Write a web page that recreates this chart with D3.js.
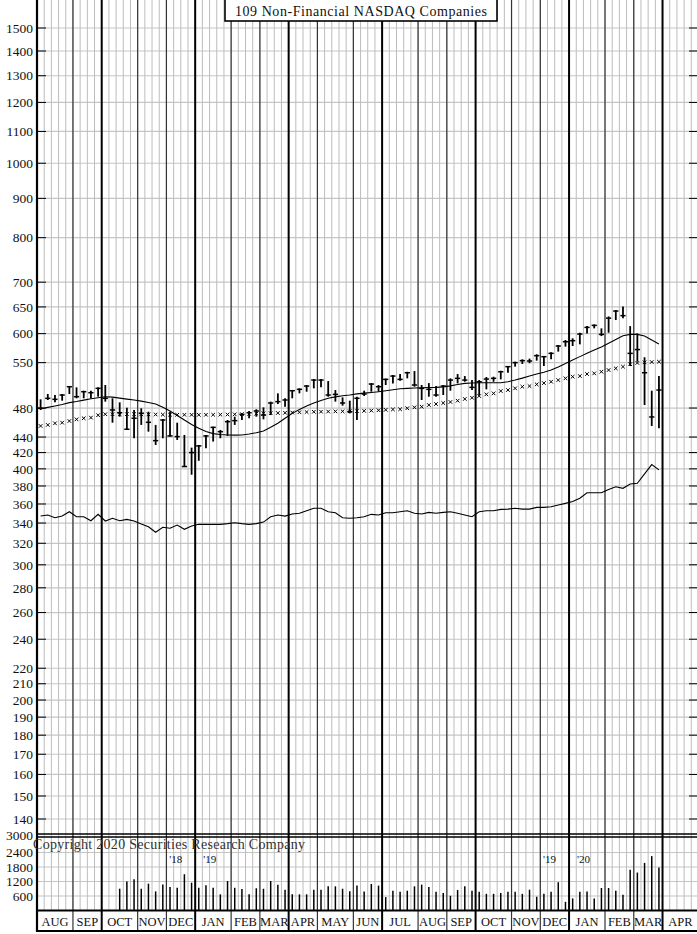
<!DOCTYPE html>
<html><head><meta charset="utf-8">
<script src="https://cdn.jsdelivr.net/npm/d3@7"></script>
<style>body{margin:0;background:#fff;} svg{display:block;} text{font-family:"Liberation Serif","Times New Roman",serif;fill:#111;}</style>
</head><body><svg id="c" width="697" height="934"></svg>
<script>
const months = ["AUG","SEP","OCT","NOV","DEC","JAN","FEB","MAR","APR","MAY","JUN","JUL","AUG","SEP","OCT","NOV","DEC","JAN","FEB","MAR","APR"];
const monthWeeks = [5,4,5,4,4,5,4,4,4,5,4,5,4,4,5,4,4,5,4,4,5];
const priceTicks = [1500,1400,1300,1200,1100,1000,900,800,700,650,600,550,480,440,420,400,380,360,340,320,300,280,260,240,220,210,200,190,180,170,160,150,140];
const volTicks = [3000,2400,1800,1200,600];
const yearLabels = [{t:"'18",m:5,side:-1},{t:"'19",m:5,side:1},{t:"'19",m:17,side:-1},{t:"'20",m:17,side:1}];

const high = [492.7,500.6,499.1,500.6,512.7,510.7,505.6,505.6,510.7,514.3,494.2,488.3,480.5,477.2,479.7,474.8,456.3,464.5,474.8,459.4,442.8,426.3,429.7,442.8,453.8,449.5,463.1,467.7,472.4,475.8,478.2,481,489.3,501.6,494.2,506.6,509.2,514.3,523.6,523.6,520.4,506.6,495.6,490.7,496.6,505.6,517.3,514.3,524.2,529.9,531.5,535.2,536.3,514.3,517.3,512.7,514.3,524.7,531.5,528.3,522,522,526.8,527.3,536.8,544.5,551.6,555.5,556.7,564,561.1,567.2,579.8,588.6,591.6,601.6,613.7,616.8,609.5,631.8,644,651,613.7,600.4,558.9,505.6,528.3];
const low = [477.2,491.7,488.3,490.7,500.6,494.2,494.2,494.2,496.6,489.3,459.4,467.7,449.5,438.4,456.3,447.2,429.7,438.4,440.6,436.2,402.8,393,409.8,425.5,434.1,438.4,441.5,456.3,463.1,465.5,467.7,464,470,485.8,481.9,494.2,501.6,504.1,509.2,510.7,496.6,489.3,483.4,472.4,463.1,497.6,504.1,504.1,514.3,516.8,520.9,524.7,511.7,491.7,496.6,496.6,499.1,505.6,516.8,519.4,506.6,499.1,507.7,519.4,523.1,533.6,543.4,547.8,549,553.3,544.5,555.5,568.4,577,578.1,581,600.4,609.5,595.6,601.6,624.9,628.5,544.5,551.6,484.4,454.9,451.8];
const close = [479.7,494.2,492.7,499.1,511.7,496.6,504.1,502.6,509.2,494.2,477.2,473.3,450.4,465.5,472.4,459.9,435.3,463.1,441.5,440.6,402.8,420,428.5,441.5,453,447.2,460.8,462.2,471,473.3,475.8,470,487.3,489.3,491.7,505.6,507.7,512.7,522,522,499.1,500.1,487.3,474.8,494.2,500.6,515.8,511.7,523.1,528.3,523.1,533.6,514.3,509.2,507.7,499.1,512.7,522,524.7,522,510.7,519.4,523.6,524.7,535.2,543.4,550,553.3,552.7,561.6,559.9,565.5,578.1,585.6,587.4,599.2,611.3,615,598.6,628.5,642,633.2,565.5,572,533.6,467.3,506.6];
const maShort = [478.6,481,483,485,487.8,489.5,491.5,493.5,495,496.6,496,494.5,493,491.7,490,488,485.8,481,475.8,469.5,463.1,457,451.8,447.5,444.6,443.3,442.8,442.5,442.8,444,445.8,448,453,458.5,465.5,472.4,478,483,487.3,491,494.2,496.3,498,499.1,500.8,502,503,504.1,505.5,507,508.5,509.2,509.8,510.2,510.5,510.7,511.5,513,515,516.8,517.5,517.8,517.8,517.8,517.8,519.4,522,525,528.3,531.5,534.5,537.9,543,548.5,554.4,560,565.5,571.2,576.5,582.8,589.5,596.1,598.6,598.6,595.6,588.6,581.6];
const maLong = [454.9,456.3,458.5,459.4,461.7,464,465.5,466.4,469.8,471.2,471.2,471.2,471.3,471.2,471,471,470.8,470.6,470.5,470.4,470.4,470.3,470.3,470.4,470.5,470.6,470.8,471,471.3,471.7,472,472.4,472.6,472.9,473.2,473.6,474,474.3,474.6,474.8,475,475.2,475.3,475.4,475.6,475.9,476.3,476.8,477.4,478,478.2,479.7,481,481.9,484.4,485.8,487.3,488.8,490.7,493.2,495,497.6,500.1,501.6,505.1,506.6,509.2,511.7,512.7,515.3,517.3,519.4,522,524.7,527.3,528.3,531.5,532.6,535.2,537.9,540.6,543.4,547.4,549.5,550.5,551,551.5];
const relStrength = [347.2,348.3,345.5,347.2,351.7,346.5,346.5,342.4,349,342.1,344.9,342.4,343.8,342.1,339,336.3,330.7,335.7,334.7,338,333.7,337,338.7,338.7,338.7,338.7,339.4,340.3,339.4,338.7,339.4,341,346.5,348.3,347.2,349.4,350.2,352.8,355.4,355.4,351.7,350.6,345.5,344.9,345.5,346.5,349,348.3,350.6,350.6,351.7,352.8,350.2,349.4,351.1,350.2,351.1,351.7,350.2,348.3,346.5,351.7,352.8,352.8,354.2,354.5,355.4,354.5,354.5,356.4,356.4,357.1,358.9,360.7,362.6,366.3,372.3,372.3,372.3,376.1,379.1,377.3,382.2,383,394.1,405.2,398.8];
const volume = [null,null,null,null,null,null,null,null,null,null,null,900,1200,1290,900,1110,790,1080,970,940,1500,1150,940,1040,940,670,1220,940,890,670,920,900,1220,1070,860,670,670,670,860,860,1000,1000,900,800,1030,790,1100,1030,555,820,780,820,1000,1070,970,780,720,610,850,1000,820,780,690,690,720,780,780,690,860,570,690,780,1170,360,500,780,790,500,930,930,820,650,1690,1570,1970,2250,1780];

const W = 697, wk = 7.19, X0 = 37;
const totalWeeks = d3.sum(monthWeeks);
const x = d3.scaleLinear().domain([0, totalWeeks]).range([X0, X0 + totalWeeks * wk]);
const y = d3.scaleLog().domain([1500, 140]).range([28, 819]);
const yv = d3.scaleLinear().domain([0, 3000]).range([910.5, 838]);
const PRICE_BOTTOM = 834, VOL_TOP = 837, VOL_BASE = 910.5, AX_BOTTOM = 931;

const svg = d3.select("#c");
svg.append("rect").attr("width", W).attr("height", 934).attr("fill", "#fff");
const defs = svg.append("defs");
defs.append("clipPath").attr("id","cp").append("rect").attr("x",X0).attr("y",0).attr("width",W-X0).attr("height",PRICE_BOTTOM);

const bounds = [0];
monthWeeks.forEach(n => bounds.push(bounds[bounds.length-1] + n));
const quarterIdx = new Set();
months.forEach((m,i)=>{ if (["OCT","JAN","APR","JUL"].includes(m)) quarterIdx.add(i); });

const gH = svg.append("g");
gH.selectAll("line.hp").data(priceTicks).join("line")
  .attr("x1", X0).attr("x2", W).attr("y1", d=>y(d)).attr("y2", d=>y(d))
  .attr("stroke", "#c6c6c6").attr("stroke-width", 1.2);
gH.selectAll("line.hv").data(volTicks.slice(1)).join("line").attr("class","hv")
  .attr("x1", X0).attr("x2", W).attr("y1", d=>yv(d)).attr("y2", d=>yv(d))
  .attr("stroke", "#c6c6c6").attr("stroke-width", 1.2);

const weeks = d3.range(0, totalWeeks + 1);
svg.append("g").selectAll("line").data(weeks).join("line")
  .attr("x1", d=>x(d)).attr("x2", d=>x(d)).attr("y1", 0).attr("y2", VOL_BASE)
  .attr("stroke", "#bdbdbd").attr("stroke-width", 1);

svg.append("g").selectAll("line").data(bounds.slice(1, -1).map((b,i)=>({b, q: quarterIdx.has(i+1)}))).join("line")
  .attr("x1", d=>x(d.b)).attr("x2", d=>x(d.b)).attr("y1", 0).attr("y2", AX_BOTTOM)
  .attr("stroke", d=>d.q ? "#000" : "#333").attr("stroke-width", d=>d.q ? 2 : 1.2);

const lines = [[PRICE_BOTTOM, 1.3],[VOL_TOP, 1.3],[VOL_BASE, 2],[AX_BOTTOM, 2.2]];
svg.append("g").selectAll("line").data(lines).join("line")
  .attr("x1", X0).attr("x2", W).attr("y1", d=>d[0]).attr("y2", d=>d[0])
  .attr("stroke", "#000").attr("stroke-width", d=>d[1]);
svg.append("line").attr("x1", X0).attr("x2", X0).attr("y1", 0).attr("y2", AX_BOTTOM+1)
  .attr("stroke", "#000").attr("stroke-width", 2.2);

const gT = svg.append("g");
gT.selectAll("line.l").data(priceTicks).join("line")
  .attr("x1", X0).attr("x2", X0+9).attr("y1", d=>y(d)).attr("y2", d=>y(d)).attr("stroke","#000").attr("stroke-width",1);
gT.selectAll("line.r").data(priceTicks).join("line").attr("class","r")
  .attr("x1", W-8).attr("x2", W).attr("y1", d=>y(d)).attr("y2", d=>y(d)).attr("stroke","#000").attr("stroke-width",1);
svg.append("g").selectAll("text").data(priceTicks).join("text")
  .attr("x", 33).attr("y", d=>y(d)).attr("dy", "0.35em").attr("text-anchor","end")
  .attr("font-size", 13.5).text(d=>d);
svg.append("g").selectAll("text").data(volTicks).join("text")
  .attr("x", 33).attr("y", d=> d===3000 ? 835 : yv(d)).attr("dy", "0.35em").attr("text-anchor","end")
  .attr("font-size", 13.5).text(d=>d);

svg.append("g").selectAll("text").data(months).join("text")
  .attr("x", (d,i)=> (x(bounds[i]) + Math.min(x(bounds[i+1]), W+14))/2)
  .attr("y", 926).attr("text-anchor","middle").attr("font-size", 12.5).text(d=>d);

const gP = svg.append("g").attr("clip-path","url(#cp)");
const idx = d3.range(high.length);
gP.selectAll("line.bar").data(idx).join("line")
  .attr("x1", i=>x(i+0.5)).attr("x2", i=>x(i+0.5)).attr("y1", i=>y(high[i])).attr("y2", i=>y(low[i]))
  .attr("stroke","#000").attr("stroke-width",1.8);
gP.selectAll("line.cl").data(idx).join("line").attr("class","cl")
  .attr("x1", i=>x(i+0.5)-2.6).attr("x2", i=>x(i+0.5)+2.6).attr("y1", i=>y(close[i])).attr("y2", i=>y(close[i]))
  .attr("stroke","#000").attr("stroke-width",1.5);

const line = d3.line().x((d,i)=>x(i+0.5)).y(d=>y(d));
gP.append("path").attr("d", line(maShort)).attr("fill","none").attr("stroke","#000").attr("stroke-width",1.1);
gP.append("path").attr("d", line(relStrength)).attr("fill","none").attr("stroke","#000").attr("stroke-width",1.1);
gP.append("path").attr("d", maLong.map((d,i)=>{const cx=x(i+0.5), cy=y(d), s=1.8; return `M${cx-s},${cy-s}L${cx+s},${cy+s}M${cx-s},${cy+s}L${cx+s},${cy-s}`;}).join(""))
  .attr("fill","none").attr("stroke","#000").attr("stroke-width",1);

svg.append("g").selectAll("line").data(idx.filter(i=>volume[i]!=null)).join("line")
  .attr("x1", i=>x(i+0.5)).attr("x2", i=>x(i+0.5)).attr("y1", yv(0)).attr("y2", i=>yv(volume[i]))
  .attr("stroke","#000").attr("stroke-width",1.5);

svg.append("text").attr("x", 33).attr("y", 849).attr("font-size", 14).style("fill","#333")
  .attr("textLength", 272).attr("lengthAdjust","spacing")
  .text("Copyright 2020 Securities Research Company");
svg.append("g").selectAll("text").data(yearLabels).join("text")
  .attr("x", d=> x(bounds[d.m]) + (d.side<0 ? -13 : 8)).attr("y", 863)
  .attr("text-anchor", d=> d.side<0 ? "end" : "start").attr("font-size", 11).text(d=>d.t);

svg.append("rect").attr("x", 225).attr("y", -2).attr("width", 272).attr("height", 23)
  .attr("fill","#fff").attr("stroke","#000").attr("stroke-width",1.6);
svg.append("text").attr("x", 361).attr("y", 16).attr("text-anchor","middle").attr("font-size", 14)
  .attr("textLength", 252).attr("lengthAdjust","spacing").text("109 Non-Financial NASDAQ Companies");
</script></body></html>
